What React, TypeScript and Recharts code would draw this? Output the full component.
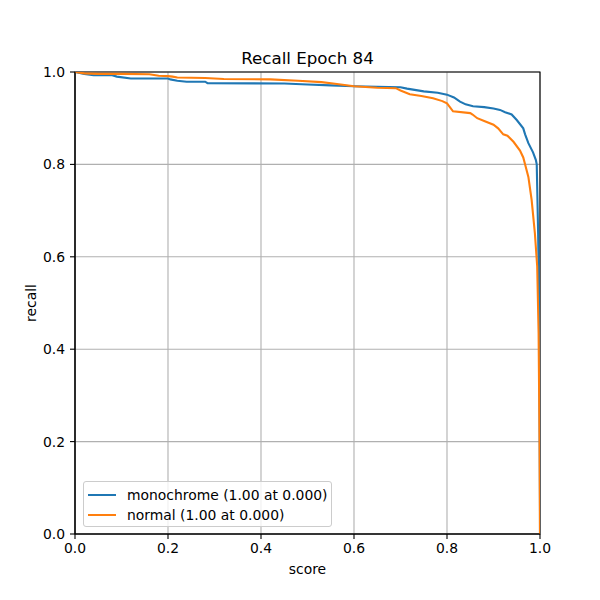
import { LineChart, Line, XAxis, YAxis, CartesianGrid, ReferenceArea } from 'recharts';

const monoScore = [0, 0.01, 0.02, 0.04, 0.08, 0.09, 0.12, 0.2, 0.205, 0.22, 0.24, 0.28, 0.285, 0.45, 0.5, 0.55, 0.6, 0.65, 0.7, 0.714, 0.75, 0.78, 0.8, 0.815, 0.828, 0.84, 0.856, 0.88, 0.9, 0.914, 0.925, 0.939, 0.95, 0.964, 0.968, 0.975, 0.985, 0.991, 0.993, 0.996, 0.998, 0.999, 1.0, 1.0];
const monoRecall = [1.0, 0.998, 0.996, 0.993, 0.993, 0.99, 0.986, 0.986, 0.984, 0.981, 0.979, 0.979, 0.976, 0.975, 0.973, 0.971, 0.969, 0.968, 0.967, 0.964, 0.958, 0.955, 0.951, 0.945, 0.936, 0.93, 0.926, 0.924, 0.921, 0.918, 0.913, 0.908, 0.896, 0.878, 0.865, 0.846, 0.826, 0.81, 0.8, 0.65, 0.5, 0.3, 0.05, 0];

const normalScore = [0, 0.02, 0.05, 0.1, 0.16, 0.18, 0.2, 0.21, 0.22, 0.28, 0.32, 0.42, 0.48, 0.53, 0.555, 0.6, 0.65, 0.69, 0.7, 0.72, 0.745, 0.77, 0.79, 0.8, 0.813, 0.85, 0.855, 0.865, 0.88, 0.9, 0.91, 0.921, 0.93, 0.943, 0.957, 0.964, 0.968, 0.975, 0.982, 0.989, 0.994, 0.997, 0.999, 1.0];
const normalRecall = [1.0, 0.997, 0.996, 0.996, 0.995, 0.992, 0.991, 0.99, 0.988, 0.987, 0.985, 0.984, 0.981, 0.978, 0.975, 0.969, 0.966, 0.965, 0.96, 0.952, 0.948, 0.943, 0.937, 0.932, 0.915, 0.911, 0.908, 0.9, 0.894, 0.886, 0.878, 0.865, 0.862, 0.849, 0.83, 0.815, 0.8, 0.773, 0.723, 0.651, 0.579, 0.435, 0.2, 0];

const ticks = [0, 0.2, 0.4, 0.6, 0.8, 1.0];
const seriesNames = ['monochrome (1.00 at 0.000)', 'normal (1.00 at 0.000)'];
const colors = ['#1f77b4', '#ff7f0e'];

const monoData = monoScore.map((s, i) => ({ score: s, recall: monoRecall[i] }));
const normalData = normalScore.map((s, i) => ({ score: s, recall: normalRecall[i] }));

const font = 'DejaVu Sans, sans-serif';

function LegendBox() {
  return (
    <div
      style={{
        position: 'absolute',
        left: 83,
        top: 481,
        width: 249,
        height: 46,
        border: '1px solid #cccccc',
        borderRadius: 3,
        background: 'rgba(255,255,255,0.8)',
        fontFamily: font,
        fontSize: 13.9,
        color: '#000',
        boxSizing: 'border-box',
        paddingTop: 3,
      }}
    >
      {seriesNames.map((name, i) => (
        <div key={name} style={{ display: 'flex', alignItems: 'center', height: 20 }}>
          <span style={{ display: 'inline-block', width: 28, height: 2, background: colors[i], marginLeft: 4, marginRight: 11 }} />
          <span>{name}</span>
        </div>
      ))}
    </div>
  );
}

export default function App() {
  return (
    <div style={{ position: 'absolute', left: 0, top: 0, width: 600, height: 600, background: '#fff', fontFamily: font }}>
      <LineChart width={600} height={600} margin={{ top: 72, right: 60, bottom: 36, left: 35 }}>
        <CartesianGrid stroke="#b0b0b0" strokeWidth={1.1} />
        <XAxis
          dataKey="score"
          type="number"
          domain={[0, 1]}
          ticks={ticks}
          tickFormatter={(v: number) => v.toFixed(1)}
          height={30}
          tickSize={5}
          tickMargin={4}
          axisLine={{ stroke: '#000', strokeWidth: 1.1 }}
          tickLine={{ stroke: '#000', strokeWidth: 1.1 }}
          tick={{ fill: '#000', fontSize: 13.9, fontFamily: font }}
          allowDataOverflow
        />
        <YAxis
          type="number"
          domain={[0, 1]}
          ticks={ticks}
          tickFormatter={(v: number) => v.toFixed(1)}
          width={40}
          tickSize={5}
          tickMargin={5}
          axisLine={{ stroke: '#000', strokeWidth: 1.1 }}
          tickLine={{ stroke: '#000', strokeWidth: 1.1 }}
          tick={{ fill: '#000', fontSize: 13.9, fontFamily: font }}
          allowDataOverflow
        />
        <Line data={monoData} dataKey="recall" name={seriesNames[0]} stroke={colors[0]} strokeWidth={2.1} dot={false} type="linear" isAnimationActive={false} />
        <Line data={normalData} dataKey="recall" name={seriesNames[1]} stroke={colors[1]} strokeWidth={2.1} dot={false} type="linear" isAnimationActive={false} />
        <ReferenceArea x1={0} x2={1} y1={0} y2={1} fill="none" stroke="#000" strokeWidth={1.1} />
      </LineChart>
      <LegendBox />
      <div style={{ position: 'absolute', left: 75, width: 465, top: 48, textAlign: 'center', fontSize: 16.7, lineHeight: '20px', color: '#000' }}>
        Recall Epoch 84
      </div>
      <div style={{ position: 'absolute', left: 75, width: 465, top: 560, textAlign: 'center', fontSize: 13.9, lineHeight: '18px', color: '#000' }}>
        score
      </div>
      <div
        style={{
          position: 'absolute',
          left: 31,
          top: 303,
          transform: 'translate(-50%, -50%) rotate(-90deg)',
          fontSize: 13.9,
          lineHeight: '18px',
          color: '#000',
          whiteSpace: 'nowrap',
        }}
      >
        recall
      </div>
    </div>
  );
}
